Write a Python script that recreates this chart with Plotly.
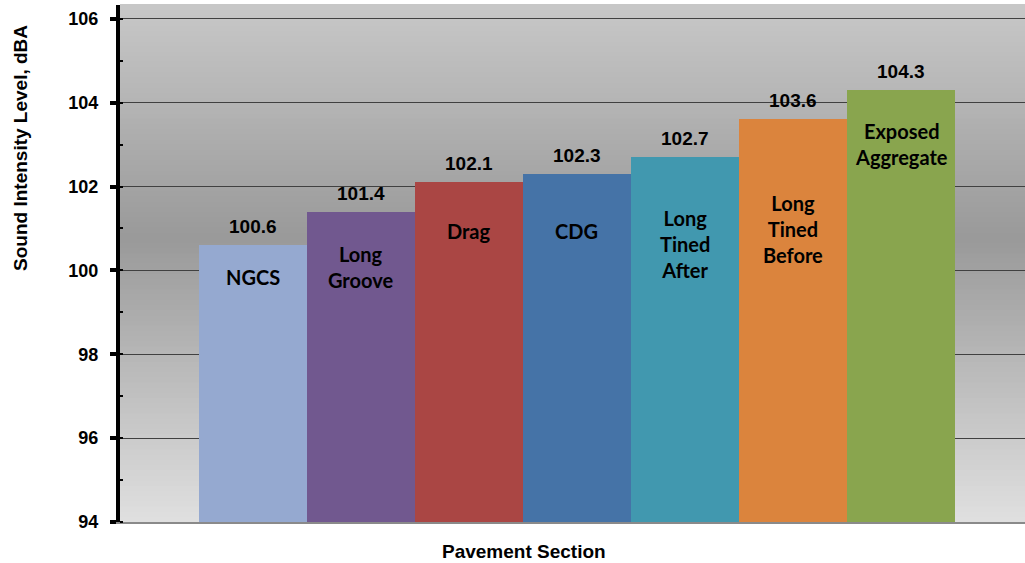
import plotly.graph_objects as go

# ---- data ----
categories = ["NGCS", "Long Groove", "Drag", "CDG", "Long Tined After",
              "Long Tined Before", "Exposed Aggregate"]
bar_labels = ["NGCS", "Long<br>Groove", "Drag", "CDG", "Long<br>Tined<br>After",
              "Long<br>Tined<br>Before", "Exposed<br>Aggregate"]
values = [100.6, 101.4, 102.1, 102.3, 102.7, 103.6, 104.3]
y_tick_values = [94, 96, 98, 100, 102, 104, 106]

# ---- styles ----
colors = ["#95A9D0", "#71588F", "#AA4644", "#4573A7", "#4198AF", "#DB843D", "#89A54E"]
label_drop = [0.76, 1.32, 1.16, 1.36, 2.07, 2.61, 1.29]  # how far below bar top the inner label sits

xs = list(range(len(categories)))

fig = go.Figure()
fig.add_bar(x=xs, y=values, width=1, marker_color=colors, marker_line_width=0,
            hovertext=categories, showlegend=False)

annotations = []
for i, v in enumerate(values):
    annotations.append(dict(x=i, y=v, xref="x", yref="y", text=f"{v:.1f}",
                            showarrow=False, yanchor="bottom", yshift=6,
                            font=dict(family="Liberation Sans, Arial", size=19,
                                      color="black", weight="bold")))
    annotations.append(dict(x=i, y=v - label_drop[i], xref="x", yref="y",
                            text=bar_labels[i], showarrow=False, yanchor="middle",
                            font=dict(family="Lato", size=20, color="black",
                                      weight="bold")))

annotations.append(dict(x=-0.1106, y=0.7234, xref="paper", yref="paper",
                        text="Sound Intensity Level, dBA", textangle=-90,
                        showarrow=False, xanchor="center", yanchor="middle",
                        font=dict(family="Liberation Sans, Arial", size=19,
                                  color="black", weight="bold")))
annotations.append(dict(x=0.4464, y=0, xref="paper", yref="paper",
                        text="Pavement Section", showarrow=False,
                        xanchor="center", yanchor="middle", yshift=-29,
                        font=dict(family="Liberation Sans, Arial", size=19,
                                  color="black", weight="bold")))

# gradient background bands
def lerp(c1, c2, t):
    return tuple(round(a + (b - a) * t) for a, b in zip(c1, c2))

stops = [(0.0, (224, 224, 224)), (0.55, (153, 153, 153)), (1.0, (200, 200, 200))]
shapes = []
N = 100
for k in range(N):
    t = (k + 0.5) / N
    for j in range(len(stops) - 1):
        if stops[j][0] <= t <= stops[j + 1][0]:
            f = (t - stops[j][0]) / (stops[j + 1][0] - stops[j][0])
            c = lerp(stops[j][1], stops[j + 1][1], f)
            break
    shapes.append(dict(type="rect", xref="paper", yref="paper", x0=0, x1=1,
                       y0=k / N, y1=(k + 1) / N + 0.002, layer="below",
                       line=dict(width=0), fillcolor="rgb(%d,%d,%d)" % c))

fig.update_layout(
    width=1025, height=563,
    margin=dict(l=120, r=0, t=5, b=41),
    paper_bgcolor="white",
    plot_bgcolor="rgba(0,0,0,0)",
    bargap=0,
    shapes=shapes,
    annotations=annotations,
    xaxis=dict(range=[-1.231, 7.148], showgrid=False, zeroline=False,
               showticklabels=False, ticks="", showline=True,
               linecolor="#8a8a8a", linewidth=2),
    yaxis=dict(range=[94, 106.33], tickvals=y_tick_values,
               ticks="outside", ticklen=6, tickwidth=4, tickcolor="black",
               showline=True, linewidth=4, linecolor="black",
               showgrid=True, gridcolor="#404040", gridwidth=1, zeroline=False,
               ticklabelstandoff=8,
               tickfont=dict(family="Liberation Sans, Arial", size=18,
                             color="black", weight="bold"),
               minor=dict(dtick=1, tick0=94, ticks="inside", ticklen=3,
                          tickwidth=2, tickcolor="black", showgrid=False)),
)

fig.write_html("out.html", config={"displayModeBar": False},
               post_script="document.body.style.margin='0';document.body.style.overflow='hidden';")
